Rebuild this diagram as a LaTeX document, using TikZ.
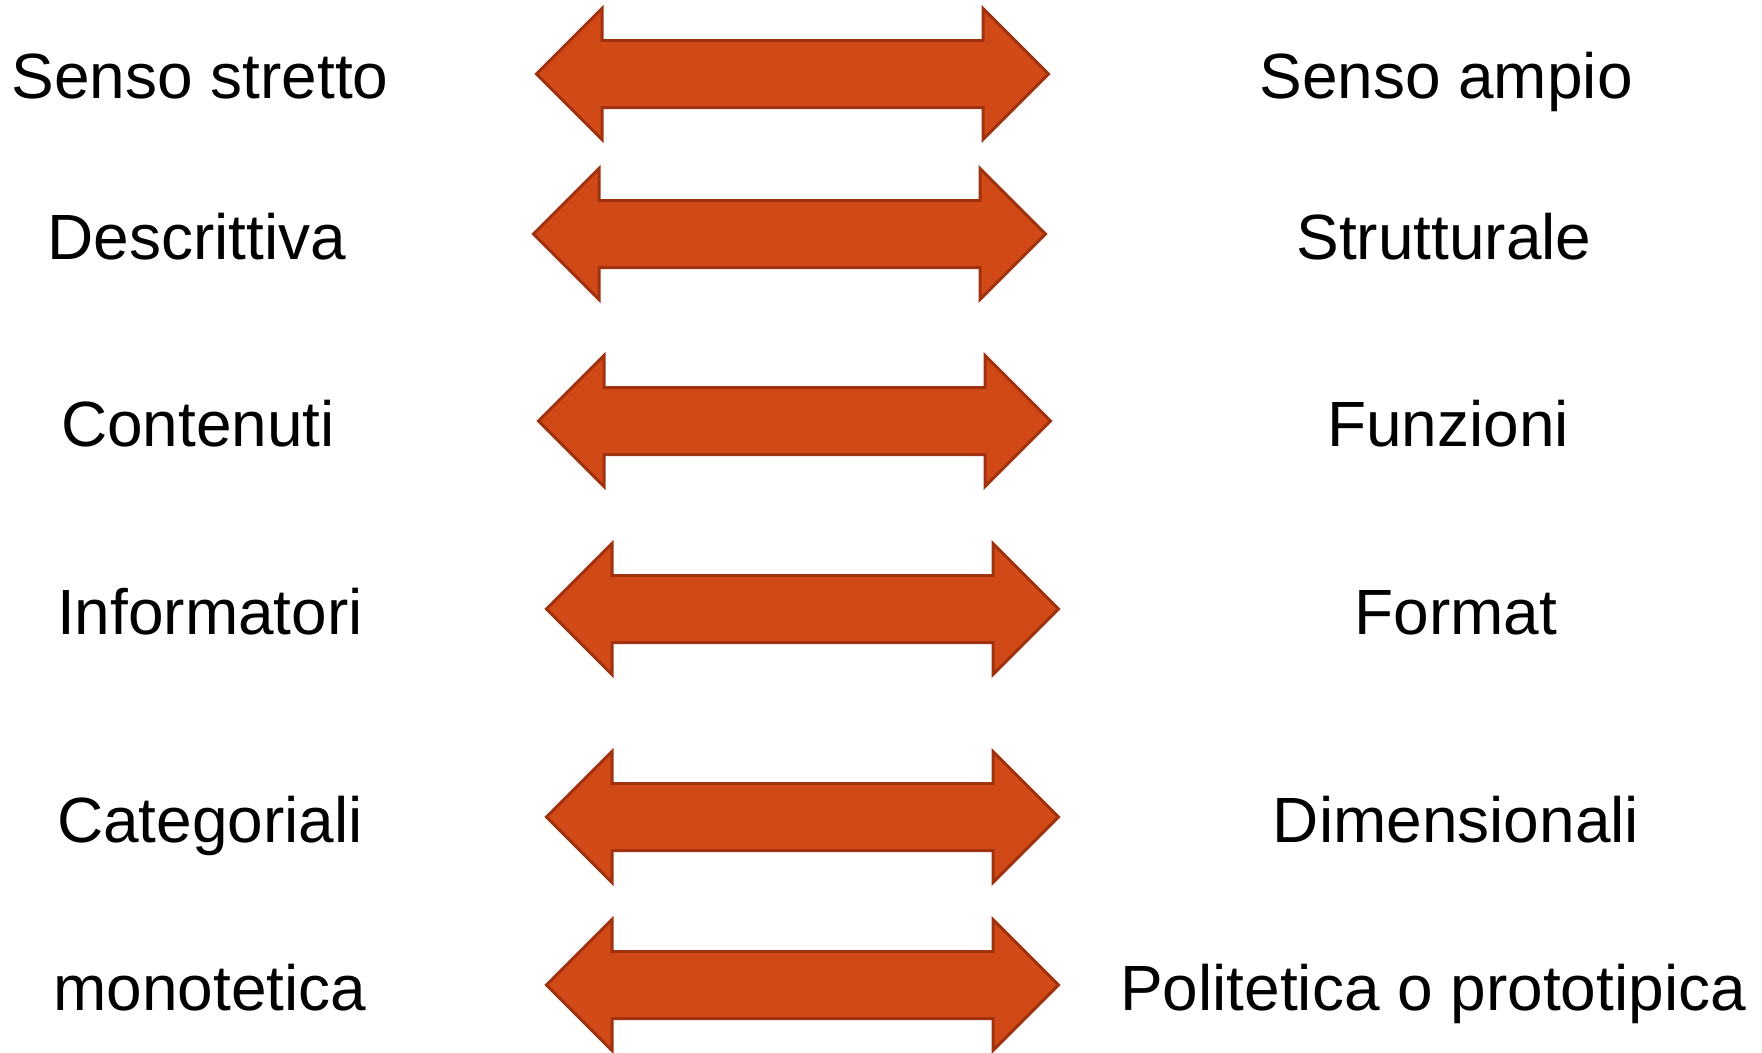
\documentclass[tikz,border=0pt]{standalone}
\usepackage{fontspec}
\setmainfont{Liberation Sans}
\usepackage{tikz}
\usepackage{xcolor}
\usetikzlibrary{shapes.arrows,positioning}
\definecolor{dlorange}{RGB}{209,73,23}
\definecolor{dlborder}{RGB}{160,50,15}
\tikzset{
  dlarrow/.style={double arrow, draw=dlborder, line width=.3mm, fill=dlorange,
    minimum height=51.2mm, text height=3.2mm, text depth=3.2mm, text width=0pt,
    double arrow head extend=3.2mm, double arrow tip angle=90,
    inner sep=0pt, outer sep=0pt},
  dllabel/.style={font=\fontsize{18.2}{22}\selectfont, anchor=base, inner sep=0pt}
}

\begin{document}
\begin{tikzpicture}[x=.1mm, y=-.1mm]
  \useasboundingbox (0,0) rectangle (1762,1052);
  \node[dlarrow] (arr1) at (792.5,74) {};
  \node[dlarrow] (arr2) at (789.5,234) {};
  \node[dlarrow] (arr3) at (794.5,421) {};
  \node[dlarrow] (arr4) at (802.5,609) {};
  \node[dlarrow] (arr5) at (802.5,817) {};
  \node[dlarrow] (arr6) at (802.5,985) {};
  \node[dllabel] (strict) at (200,98) {Senso stretto};
  \node[dllabel] (descr) at (197,259) {Descrittiva};
  \node[dllabel] (cont) at (198,446) {Contenuti};
  \node[dllabel] (inform) at (210,634) {Informatori};
  \node[dllabel] (categ) at (210,842) {Categoriali};
  \node[dllabel] (mono) at (210,1010) {monotetica};
  \node[dllabel] (wide) at (1446,98) {Senso ampio};
  \node[dllabel] (struct) at (1444,259) {Strutturale};
  \node[dllabel] (funz) at (1448,446) {Funzioni};
  \node[dllabel] (format) at (1456,634) {Format};
  \node[dllabel] (dimens) at (1456,842) {Dimensionali};
  \node[dllabel] (polit) at (1433,1010) {Politetica o prototipica};
\end{tikzpicture}
\end{document}
